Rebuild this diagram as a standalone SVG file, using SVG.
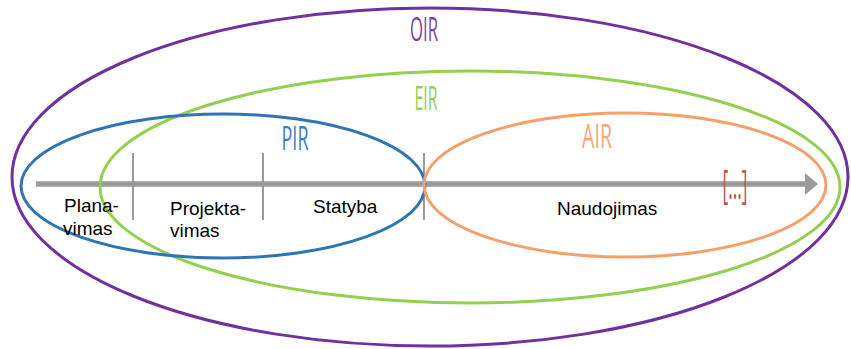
<svg xmlns="http://www.w3.org/2000/svg" width="851" height="349" viewBox="0 0 851 349">
<defs>
<style>
.ell{fill:none;stroke-width:3}
.tick{stroke:#9a9a9a;stroke-width:2}
.lbl{font-family:"Liberation Sans",Arial,sans-serif;font-size:19px;fill:#000}
.cap{font-family:"Open Sans","DejaVu Sans",sans-serif;font-size:32px}
</style>
</defs>
<rect width="851" height="349" fill="#fff"/>
<g id="connectors">
<line x1="36" y1="184" x2="806" y2="184" stroke="#9a9a9a" stroke-width="5.5"/>
<polygon points="805,173 818,184 805,195" fill="#9a9a9a"/>
<line class="tick" x1="133" y1="153" x2="133" y2="220"/>
<line class="tick" x1="263" y1="153" x2="263" y2="220"/>
<line class="tick" x1="424" y1="153" x2="424" y2="220"/>
</g>
<g id="OIR">
<ellipse class="ell" cx="430" cy="177" rx="418" ry="169" stroke="#7030a0"/>
<text class="cap" x="424" y="41" text-anchor="middle" fill="#7b45a8" textLength="28" lengthAdjust="spacingAndGlyphs">OIR</text>
</g>
<g id="EIR">
<ellipse class="ell" cx="470" cy="187" rx="370" ry="116" stroke="#92d050"/>
<text class="cap" x="426" y="110" text-anchor="middle" fill="#92d050" textLength="23" lengthAdjust="spacingAndGlyphs">EIR</text>
</g>
<g id="PIR">
<ellipse class="ell" cx="223" cy="186" rx="202" ry="72" stroke="#2e75b6" stroke-width="3.5"/>
<text class="cap" x="295" y="150" text-anchor="middle" fill="#3d7cc0" textLength="27" lengthAdjust="spacingAndGlyphs">PIR</text>
</g>
<g id="AIR">
<ellipse class="ell" cx="625" cy="185" rx="201" ry="72" stroke="#f4a06a"/>
<text class="cap" x="597" y="148" text-anchor="middle" fill="#f5a77a" textLength="30" lengthAdjust="spacingAndGlyphs">AIR</text>
</g>
<g id="etc">
<text x="735" y="199" text-anchor="middle" font-family="'Open Sans','DejaVu Sans',sans-serif" font-size="40" fill="#c0504d" textLength="25" lengthAdjust="spacingAndGlyphs">[...]</text>
</g>
<g id="Planavimas">
<text class="lbl" x="64" y="212">Plana-</text>
<text class="lbl" x="63" y="235">vimas</text>
</g>
<g id="Projektavimas">
<text class="lbl" x="170" y="215">Projekta-</text>
<text class="lbl" x="170" y="237">vimas</text>
</g>
<g id="Statyba">
<text class="lbl" x="313" y="213">Statyba</text>
</g>
<g id="Naudojimas">
<text class="lbl" x="557" y="215">Naudojimas</text>
</g>
</svg>
